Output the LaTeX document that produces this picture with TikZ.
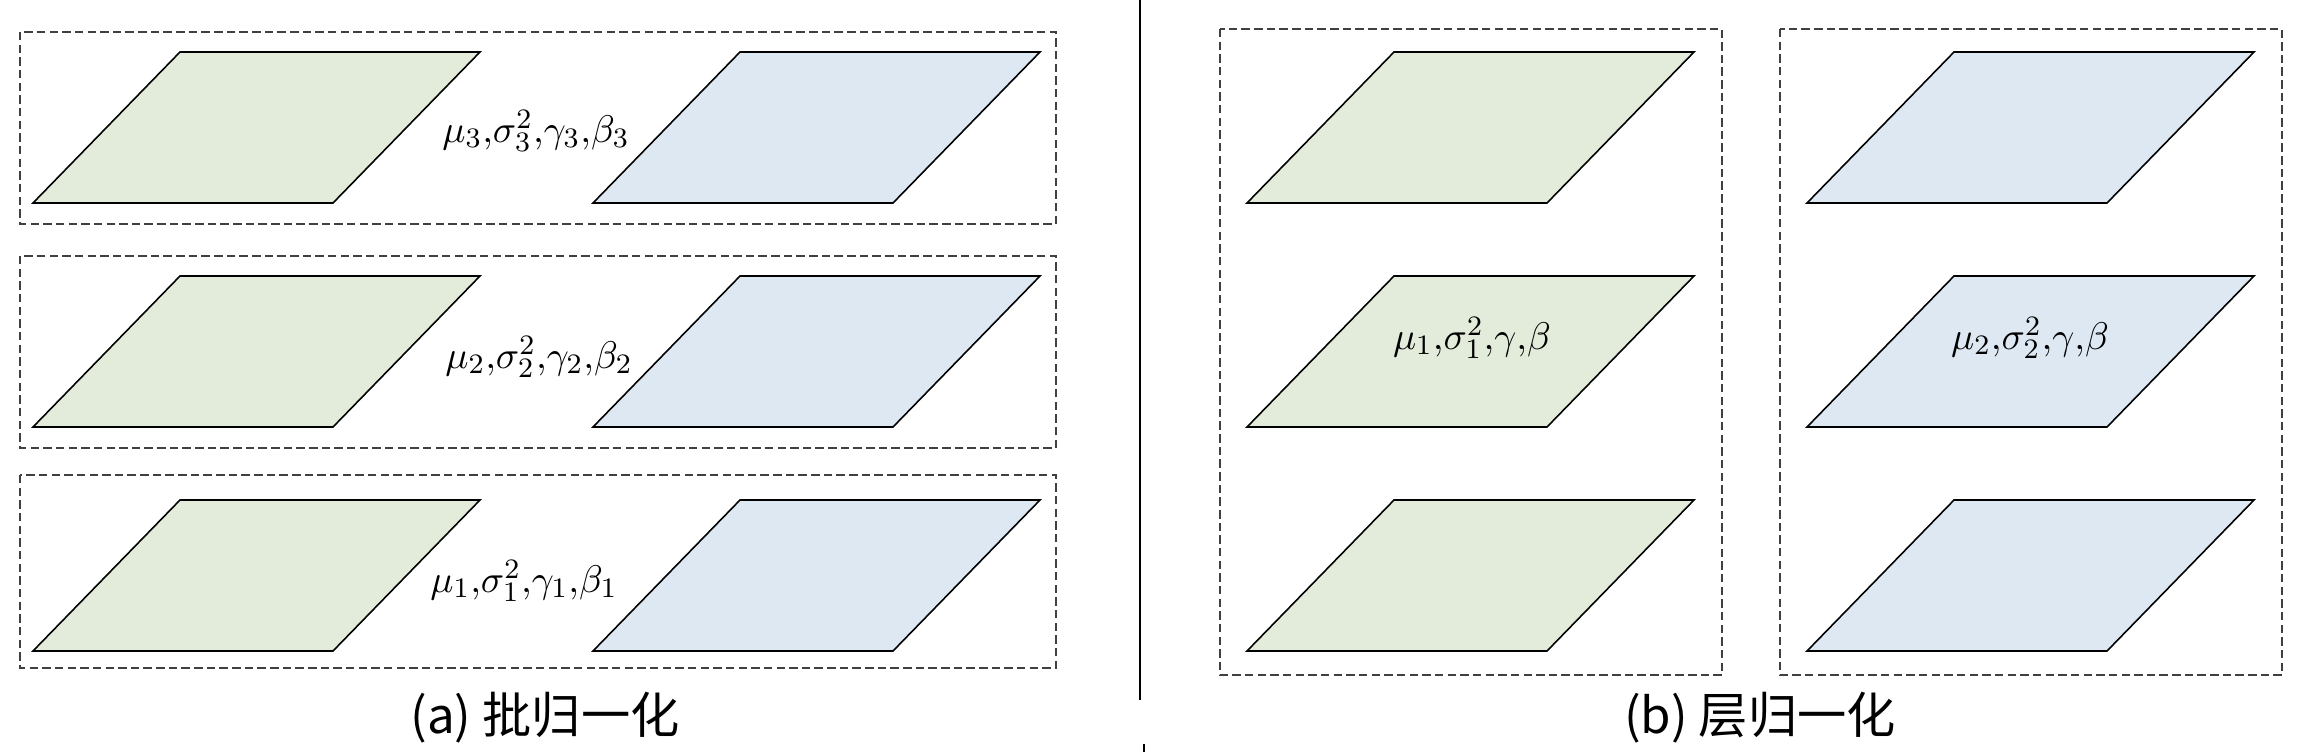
\documentclass[tikz,border=0pt]{standalone}
\usepackage{fontspec}
\newfontfamily\cjk{Noto Sans CJK SC}
\usetikzlibrary{positioning}
\usepackage{xcolor}
\definecolor{PlaneG}{HTML}{E3ECDA}
\definecolor{PlaneB}{HTML}{DEE8F3}
\definecolor{EdgeD}{HTML}{404040}
\tikzset{
  gplane/.style={draw=black, line width=0.45pt, fill=PlaneG},
  bplane/.style={draw=black, line width=0.45pt, fill=PlaneB},
  dbox/.style={draw=EdgeD, line width=0.55pt, dash pattern=on 2.4pt off 1.2pt},
  param/.style={inner sep=0pt, font=\fontsize{11}{13}\selectfont},
  captext/.style={inner sep=0pt, font=\cjk\fontsize{14}{16}\selectfont},
}

\begin{document}
\begin{tikzpicture}[x=0.01cm, y=-0.01cm]
    \useasboundingbox (0,0) rectangle (2298,752);
    % (a) batch norm
    \draw[dbox] (20,32) rectangle (1056,224);
    \draw[dbox] (20,256) rectangle (1056,448);
    \draw[dbox] (20,475) rectangle (1056,668);
    \draw[gplane] (33,203) -- ++(147,-151) -- ++(300,0) -- ++(-147,151) -- cycle;
    \draw[bplane] (593,203) -- ++(147,-151) -- ++(300,0) -- ++(-147,151) -- cycle;
    \draw[gplane] (33,427) -- ++(147,-151) -- ++(300,0) -- ++(-147,151) -- cycle;
    \draw[bplane] (593,427) -- ++(147,-151) -- ++(300,0) -- ++(-147,151) -- cycle;
    \draw[gplane] (33,651) -- ++(147,-151) -- ++(300,0) -- ++(-147,151) -- cycle;
    \draw[bplane] (593,651) -- ++(147,-151) -- ++(300,0) -- ++(-147,151) -- cycle;
    \node[param] (p3) at (536,131) {$\mu_3{,}\sigma_3^2{,}\gamma_3{,}\beta_3$};
    \node[param] (p2) at (539,357) {$\mu_2{,}\sigma_2^2{,}\gamma_2{,}\beta_2$};
    \node[param] (p1) at (524,581) {$\mu_1{,}\sigma_1^2{,}\gamma_1{,}\beta_1$};
    \node[captext] (capa) at (545,718) {(a) 批归一化};
    % separator
    \draw[line width=0.6pt] (1140,0) -- (1140,700);
    \draw[line width=0.6pt] (1144,744) -- (1144,752);
    % (b) layer norm
    \draw[dbox] (1220,29) rectangle (1722,675);
    \draw[dbox] (1780,29) rectangle (2282,675);
    \draw[gplane] (1247,203) -- ++(147,-151) -- ++(300,0) -- ++(-147,151) -- cycle;
    \draw[gplane] (1247,427) -- ++(147,-151) -- ++(300,0) -- ++(-147,151) -- cycle;
    \draw[gplane] (1247,651) -- ++(147,-151) -- ++(300,0) -- ++(-147,151) -- cycle;
    \draw[bplane] (1807,203) -- ++(147,-151) -- ++(300,0) -- ++(-147,151) -- cycle;
    \draw[bplane] (1807,427) -- ++(147,-151) -- ++(300,0) -- ++(-147,151) -- cycle;
    \draw[bplane] (1807,651) -- ++(147,-151) -- ++(300,0) -- ++(-147,151) -- cycle;
    \node[param] (pg) at (1472,338) {$\mu_1{,}\sigma_1^2{,}\gamma{,}\beta$};
    \node[param] (pb) at (2030,338) {$\mu_2{,}\sigma_2^2{,}\gamma{,}\beta$};
    \node[captext] (capb) at (1760,718) {(b) 层归一化};
  \end{tikzpicture}
\end{document}
